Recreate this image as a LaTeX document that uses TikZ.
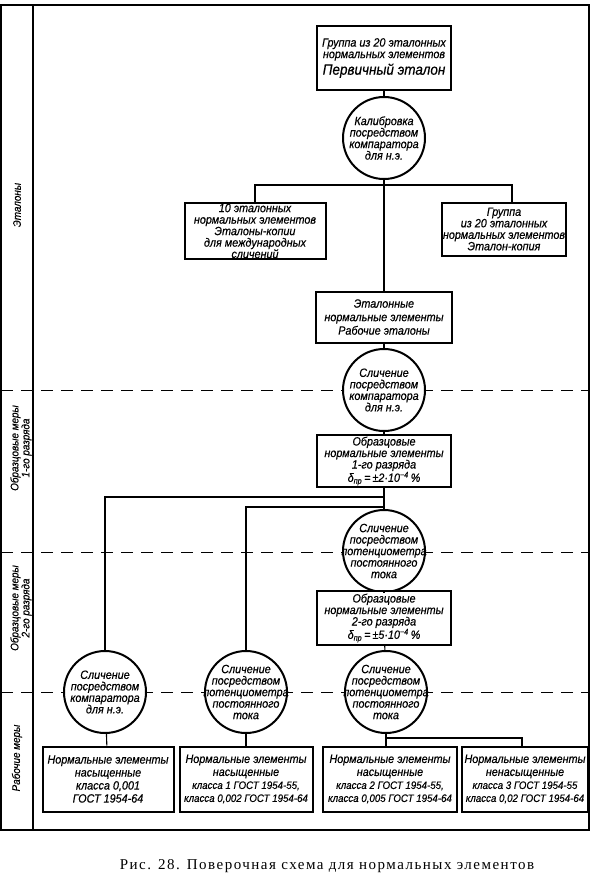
\documentclass[tikz,border=0pt]{standalone}
\usepackage{fontspec}
\setmainfont{Liberation Serif}
\newfontfamily\gostfont{Liberation Sans}[FakeStretch=0.9, FakeBold=0.4]
\newfontfamily\capfont{Liberation Serif}[LetterSpace=10]
\usetikzlibrary{positioning}

\tikzset{
  gost/.style={font=\gostfont\itshape\fontsize{12}{11.5}\selectfont, align=center},
  elbox/.style={gost, draw, line width=2pt, fill=white, inner sep=1pt},
  slich/.style={gost, circle, draw, line width=2pt, fill=white, inner sep=-12pt, minimum size=82pt},
  link/.style={line width=1.1pt},
  level/.style={line width=1pt, dash pattern=on 12pt off 8pt},
  side/.style={gost, rotate=90, font=\gostfont\itshape\fontsize{11}{11}\selectfont},
  workbox/.style={elbox, minimum height=65, font=\gostfont\itshape\fontsize{12}{13}\selectfont}
}

\begin{document}
\begin{tikzpicture}[x=1pt,y=-1pt]
  \useasboundingbox (0,0) rectangle (593,883);
  \draw[line width=1.3pt] (1,5) rectangle (589,830);                % outer frame
  \draw[line width=1.3pt] (33,5) -- (33,830);                       % column of levels
  \foreach \y in {390,552,692}
    \draw[level] (1,\y) -- (589,\y);                                % level borders

  % level names
  \node[side] (lvlA) at (17,205) {Эталоны};
  \node[side] (lvlB) at (21,448) {Образцовые меры\\1-го разряда};
  \node[side] (lvlC) at (21,608) {Образцовые меры\\2-го разряда};
  \node[side] (lvlD) at (17,758) {Рабочие меры};

  % standards
  \node[elbox, minimum width=134, minimum height=63] (prim) at (384,58)
    {Группа из 20 эталонных\\нормальных элементов\\[2pt]{\fontsize{15}{16}\selectfont Первичный эталон}};
  \node[slich] (calib) at (384,138) {Калибровка\\посредством\\компаратора\\для н.э.};
  \node[elbox, minimum width=141, minimum height=56] (copyA) at (255,231)
    {10 эталонных\\нормальных элементов\\Эталоны-копии\\для международных\\сличений};
  \node[elbox, minimum width=120, minimum height=53] (copyB) at (504,229)
    {Группа\\из 20 эталонных\\нормальных элементов\\Эталон-копия};
  \node[elbox, minimum width=136, minimum height=51] (work) at (384,317)
    {Эталонные\\[2pt]нормальные элементы\\[2pt]Рабочие эталоны};
  \node[slich] (cmpA) at (384,390) {Сличение\\посредством\\компаратора\\для н.э.};

  % reference measures
  \node[elbox, minimum width=134, minimum height=52] (ordA) at (384,461)
    {Образцовые\\нормальные элементы\\1-го разряда\\δ\textsubscript{пр}\,=\,±2·10\textsuperscript{−4}\,\%};
  \node[slich] (potA) at (384,551) {Сличение\\посредством\\потенциометра\\постоянного\\тока};
  \node[elbox, minimum width=134, minimum height=54] (ordB) at (384,618)
    {Образцовые\\нормальные элементы\\2-го разряда\\δ\textsubscript{пр}\,=\,±5·10\textsuperscript{−4}\,\%};

  % comparisons for working measures
  \node[slich] (cmpB) at (105,692) {Сличение\\посредством\\компаратора\\для н.э.};
  \node[slich] (potB) at (246,692) {Сличение\\посредством\\потенциометра\\постоянного\\тока};
  \node[slich] (potC) at (386,692) {Сличение\\посредством\\потенциометра\\постоянного\\тока};

  % working measures
  \node[workbox, minimum width=131] (wrkA) at (108,779)
    {Нормальные элементы\\насыщенные\\класса 0,001\\ГОСТ 1954-64};
  \node[workbox, minimum width=133] (wrkB) at (246,779)
    {Нормальные элементы\\насыщенные\\{\fontsize{10.8}{13}\selectfont класса 1 ГОСТ 1954-55,}\\{\fontsize{10.8}{13}\selectfont класса 0,002 ГОСТ 1954-64}};
  \node[workbox, minimum width=134] (wrkC) at (390,779)
    {Нормальные элементы\\насыщенные\\{\fontsize{10.8}{13}\selectfont класса 2 ГОСТ 1954-55,}\\{\fontsize{10.8}{13}\selectfont класса 0,005 ГОСТ 1954-64}};
  \node[workbox, minimum width=126] (wrkD) at (525,779)
    {Нормальные элементы\\ненасыщенные\\{\fontsize{10.8}{13}\selectfont класса 3 ГОСТ 1954-55}\\{\fontsize{10.8}{13}\selectfont класса 0,02 ГОСТ 1954-64}};

  % branch points
  \coordinate (splitA) at (384,185);
  \coordinate (splitB) at (512,185);
  \coordinate (splitC) at (384,497);
  \coordinate (splitD) at (384,507);
  \coordinate (splitE) at (386,738);
  \coordinate (splitF) at (522,738);

  % connections
  \draw[link] (prim) -- (calib);
  \draw[link] (calib) -- (work);
  \draw[link] (copyA.north) |- (splitA) -- (splitB) -- (splitB |- copyB.north);
  \draw[link] (work) -- (cmpA);
  \draw[link] (cmpA) -- (ordA);
  \draw[link] (ordA) -- (potA);
  \draw[link] (potA) -- (ordB);
  \draw[link] (ordB) -- (potC);
  \draw[link] (splitC) -| (cmpB.north);
  \draw[link] (splitD) -| (potB.north);
  \draw[link] (cmpB) -- (wrkA);
  \draw[link] (potB) -- (wrkB);
  \draw[link] (potC.south) -- (splitE |- wrkC.north);
  \draw[link] (splitE) -- (splitF) -- (splitF |- wrkD.north);

  % caption
  \node[font=\capfont\fontsize{15}{16}\selectfont] (caption) at (327,866)
    {Рис. 28. Поверочная схема для нормальных элементов};
\end{tikzpicture}
\end{document}
